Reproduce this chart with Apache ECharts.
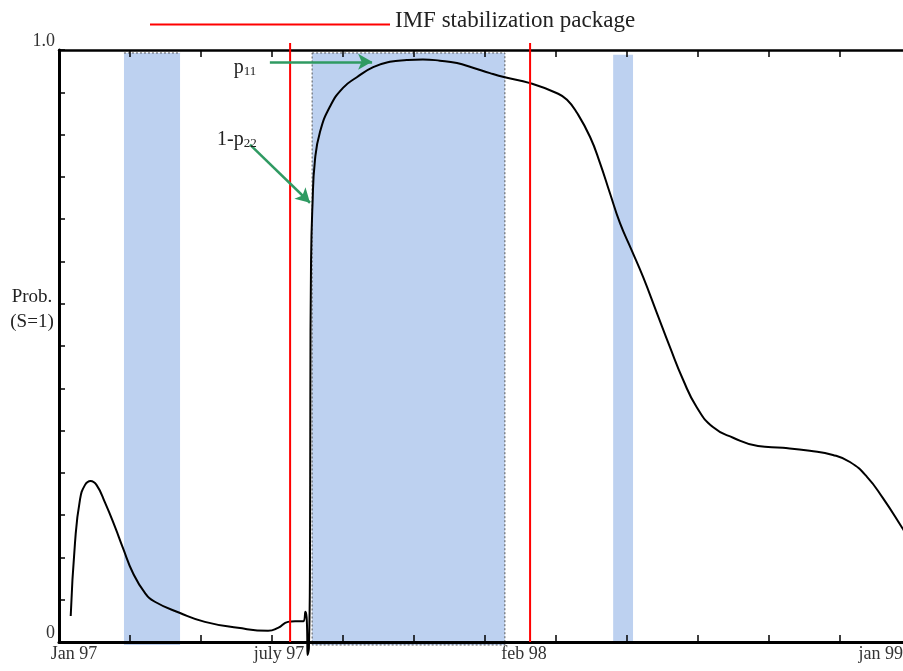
<!DOCTYPE html>
<html><head><meta charset="utf-8">
<script src="https://cdn.jsdelivr.net/npm/echarts@6/dist/echarts.min.js"></script>
<style>html,body{margin:0;padding:0;background:#fff}#c{width:903px;height:671px}</style>
</head><body><div id="c"></div>
<script>
// time axis in months since Jan 97
const months = [0.33,0.45,0.59,0.73,0.89,1.06,1.30,1.58,1.80,2.08,2.42,2.70,3.41,4.11,5.04,5.89,6.17,6.45,6.65,6.88,
  6.94,6.99,7.00,7.04,7.07,7.08,7.10,7.14,7.21,7.35,7.63,8.00,8.39,8.85,9.32,9.80,10.25,10.73,11.21,11.66,12.14,12.56,
  13.27,14.03,14.31,14.59,14.96,15.24,15.52,15.80,16.13,16.45,16.84,17.21,17.58,17.96,18.42,18.99,19.69,20.39,21.15,
  21.80,22.28,22.76,23.21,23.75,24.0];
const probS1 = [0.044,0.167,0.240,0.265,0.272,0.265,0.235,0.194,0.159,0.117,0.083,0.068,0.049,0.034,0.024,0.019,0.024,0.034,0.035,0.035,
  0.051,0.020,-0.022,-0.010,0.139,0.409,0.645,0.738,0.814,0.861,0.904,0.936,0.954,0.971,0.980,0.983,0.984,0.982,0.978,0.970,0.961,0.954,
  0.944,0.927,0.916,0.894,0.853,0.809,0.758,0.708,0.662,0.617,0.556,0.498,0.443,0.397,0.363,0.345,0.331,0.328,0.323,
  0.316,0.304,0.279,0.243,0.193,0.169];
const xTickLabels = ['Jan 97','july 97','feb 98','jan 99'];
const xTickLabelPos = [0.42, 6.2, 13.1, 23.15];
const imfPackageMonths = [6.51, 13.27];
const imfLineTop = 1.012;
const shadedStart = [1.83, 7.13, 15.61];
const shadedEnd = [3.41, 12.56, 16.17];
const shadedTop = [0.995, 0.995, 0.992];
const shadedBottom = [-0.005, -0.005, -0.001];
const shadedBorder = [1, 2, 0]; // 0 none, 1 top dotted, 2 all dotted
const arrowP11 = [[5.94, 0.980], [8.82, 0.980]];
const arrowP22 = [[5.38, 0.840], [7.07, 0.742]];
const labelP11 = [5.24, 0.9696];
const labelP22 = [5.01, 0.848];

const FONT = '"Liberation Serif", "DejaVu Serif", serif';
const curveData = months.map((m, i) => [m, probS1[i]]);
const shadeData = shadedStart.map((s, i) => [s, shadedEnd[i], shadedTop[i], shadedBottom[i], shadedBorder[i]]);
const imfData = imfPackageMonths.map(m => [m, 0, imfLineTop]);

const chart = echarts.init(document.getElementById('c'));
chart.setOption({
  animation: false,
  backgroundColor: '#fff',
  grid: {left: 59, top: 50, width: 852, bottom: 29, containLabel: false, outerBoundsMode: 'none'},
  legend: {
    data: [{name: 'IMF stabilization package', icon: 'rect'}],
    left: 150, top: 9, padding: 0, itemWidth: 240, itemHeight: 2, selectedMode: false,
    formatter: name => '{t|' + name + '}',
    textStyle: {
      fontFamily: FONT, fontSize: 23, color: '#222',
      rich: {t: {fontFamily: FONT, fontSize: 23, color: '#222', padding: [0, 0, 8, 0]}}
    }
  },
  graphic: [{
    type: 'text', x: 32, y: 285,
    style: {text: 'Prob.\n(S=1)', align: 'center', verticalAlign: 'top', fontFamily: FONT, fontSize: 19, lineHeight: 25, fill: '#222'}
  }],
  xAxis: [{
    type: 'value', min: 0, max: 24, interval: 2, position: 'bottom', z: 2,
    axisLine: {show: true, onZero: false, lineStyle: {color: '#000', width: 3}},
    axisTick: {show: true, inside: true, length: 7, lineStyle: {color: '#000', width: 1.5}},
    axisLabel: {
      customValues: xTickLabelPos, margin: 3, fontFamily: FONT, fontSize: 18, color: '#333',
      formatter: v => { const i = xTickLabelPos.findIndex(p => Math.abs(p - v) < 1e-6); return i >= 0 ? xTickLabels[i] : ''; }
    },
    splitLine: {show: false}
  }, {
    type: 'value', min: 0, max: 24, interval: 2, position: 'top', z: 2,
    axisLine: {show: true, onZero: false, lineStyle: {color: '#000', width: 2.5}},
    axisTick: {show: true, inside: true, length: 7, lineStyle: {color: '#000', width: 1.5}},
    axisLabel: {show: false}, splitLine: {show: false}
  }],
  yAxis: {
    type: 'value', min: 0, max: 1, interval: 1 / 14, z: 2,
    axisLine: {show: true, onZero: false, lineStyle: {color: '#000', width: 3}},
    axisTick: {show: true, inside: true, length: 6, lineStyle: {color: '#000', width: 1.5}},
    axisLabel: {
      margin: 4, verticalAlign: 'bottom', fontFamily: FONT, fontSize: 18, color: '#333',
      formatter: v => (v === 0 ? '0' : (Math.abs(v - 1) < 1e-6 ? '1.0' : ''))
    },
    splitLine: {show: false}
  },
  series: [{
    name: 'shading', type: 'custom', z: 1, clip: false, silent: true,
    data: shadeData,
    encode: {x: [0, 1], y: [2, 3]},
    renderItem: (params, api) => {
      const p0 = api.coord([api.value(0), api.value(2)]);
      const p1 = api.coord([api.value(1), api.value(3)]);
      const b = api.value(4);
      const children = [{
        type: 'rect', shape: {x: p0[0], y: p0[1], width: p1[0] - p0[0], height: p1[1] - p0[1]},
        style: {fill: '#bdd1f0'}
      }];
      const dash = {stroke: '#555', lineWidth: 1, lineDash: [2, 2], fill: null};
      if (b === 1) children.push({type: 'line', shape: {x1: p0[0], y1: p0[1], x2: p1[0], y2: p0[1]}, style: dash});
      if (b === 2) children.push({type: 'rect', shape: {x: p0[0], y: p0[1], width: p1[0] - p0[0], height: p1[1] - p0[1]}, style: dash});
      return {type: 'group', children};
    }
  }, {
    name: 'IMF stabilization package', type: 'custom', z: 4, clip: false, silent: true,
    itemStyle: {color: '#ff0000'},
    data: imfData,
    encode: {x: 0, y: [1, 2]},
    renderItem: (params, api) => {
      const a = api.coord([api.value(0), api.value(1)]);
      const b = api.coord([api.value(0), api.value(2)]);
      return {type: 'line', shape: {x1: a[0], y1: a[1], x2: b[0], y2: b[1]}, style: {stroke: '#ff0000', lineWidth: 2}};
    }
  }, {
    name: 'Prob', type: 'line', z: 3, clip: false, silent: true,
    data: curveData, smooth: 0.5, showSymbol: false,
    lineStyle: {color: '#000', width: 2},
    markLine: {
      silent: true, symbol: ['none', 'arrow'], symbolSize: [12, 14],
      lineStyle: {color: '#2f9a62', width: 2.5, type: 'solid'},
      label: {show: false},
      data: [
        [{coord: arrowP11[0]}, {coord: arrowP11[1]}],
        [{coord: arrowP22[0]}, {coord: arrowP22[1]}]
      ]
    },
    markPoint: {
      silent: true, symbol: 'circle', symbolSize: 0,
      label: {
        show: true, position: 'inside', color: '#222', fontFamily: FONT,
        rich: {
          a: {fontSize: 20, fontFamily: FONT, color: '#222'},
          s: {fontSize: 13, fontFamily: FONT, color: '#222', verticalAlign: 'bottom'}
        }
      },
      data: [
        {coord: labelP11, label: {formatter: '{a|p}{s|11}'}},
        {coord: labelP22, label: {formatter: '{a|1-p}{s|22}'}}
      ]
    }
  }]
});
</script></body></html>
